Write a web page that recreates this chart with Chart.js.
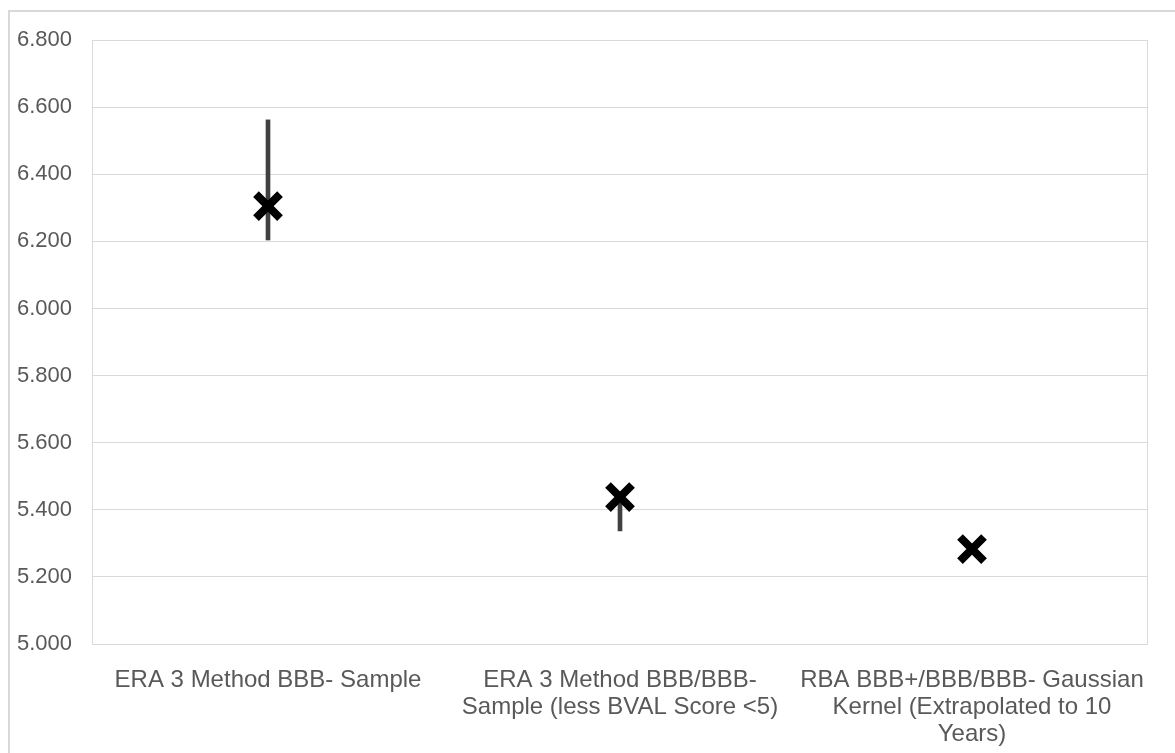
<!DOCTYPE html>
<html>
<head>
<meta charset="utf-8">
<script src="https://cdn.jsdelivr.net/npm/chart.js@4/dist/chart.umd.min.js"></script>
<style>
  html, body { margin: 0; padding: 0; background: #fff; }
  #frame {
    position: absolute; left: 8px; top: 10px; width: 1200px; height: 760px;
    border-top: 2px solid #d9d9d9; border-left: 2px solid #d9d9d9;
  }
  #wrap { position: absolute; left: 0; top: 0; width: 1175px; height: 753px; }
</style>
</head>
<body>
<div id="frame"></div>
<div id="wrap"><canvas id="rangeChart" width="1175" height="753"></canvas></div>
<script>
// Kategori dan nilai
const categories = [
    'ERA 3 Method BBB- Sample',
    ['ERA 3 Method BBB/BBB-', 'Sample (less BVAL Score <5)'],
    ['RBA BBB+/BBB/BBB- Gaussian', 'Kernel (Extrapolated to 10', 'Years)']
];
const lowValues = [6.204, 5.337, 5.276];
const highValues = [6.562, 5.45, 5.292];
const midValues = [6.305, 5.438, 5.283];

// Garis tepi area plot
const plotBorder = {
    id: 'plotBorder',
    beforeDatasetsDraw(chart) {
        const { ctx, chartArea } = chart;
        ctx.save();
        ctx.strokeStyle = '#d9d9d9';
        ctx.lineWidth = 1;
        ctx.strokeRect(chartArea.left + 0.5, chartArea.top + 0.5,
            chartArea.right - chartArea.left - 1, chartArea.bottom - chartArea.top);
        ctx.restore();
    }
};

function initRangeChart() {
    const ctx = document.getElementById('rangeChart').getContext('2d');
    const ranges = lowValues.map((v, i) => [v, highValues[i]]);

    new Chart(ctx, {
        type: 'bar',
        data: {
            labels: categories,
            datasets: [
                {
                    label: 'Range',
                    data: ranges,
                    backgroundColor: '#404040',
                    barThickness: 4,
                    borderSkipped: false,
                    order: 2
                },
                {
                    type: 'line',
                    label: 'Estimate',
                    data: midValues,
                    showLine: false,
                    pointStyle: 'crossRot',
                    pointRadius: 17,
                    pointBorderWidth: 8,
                    pointBorderColor: '#000000',
                    pointBackgroundColor: '#000000',
                    order: 1
                }
            ]
        },
        options: {
            responsive: false,
            animation: false,
            layout: { padding: { left: 0, top: 40, right: 27, bottom: 0 } },
            scales: {
                x: {
                    grid: { display: false },
                    border: { display: false },
                    ticks: {
                        color: '#595959',
                        maxRotation: 0,
                        autoSkip: false,
                        padding: 15,
                        font: { family: '"Liberation Sans", Arial, sans-serif', size: 24, lineHeight: 1.12 }
                    },
                    afterFit: function(scale) { scale.height = 109; }
                },
                y: {
                    min: 5,
                    max: 6.8,
                    grid: { color: '#d9d9d9', lineWidth: 1, drawTicks: false },
                    border: { display: false },
                    ticks: {
                        stepSize: 0.2,
                        color: '#595959',
                        padding: 20,
                        font: { family: '"Liberation Sans", Arial, sans-serif', size: 22 },
                        callback: function(value) { return value.toFixed(3); }
                    },
                    afterFit: function(scale) { scale.width = 92; }
                }
            },
            plugins: {
                legend: { display: false },
                tooltip: { enabled: false }
            }
        },
        plugins: [plotBorder]
    });
}

document.addEventListener('DOMContentLoaded', initRangeChart);
</script>
</body>
</html>
